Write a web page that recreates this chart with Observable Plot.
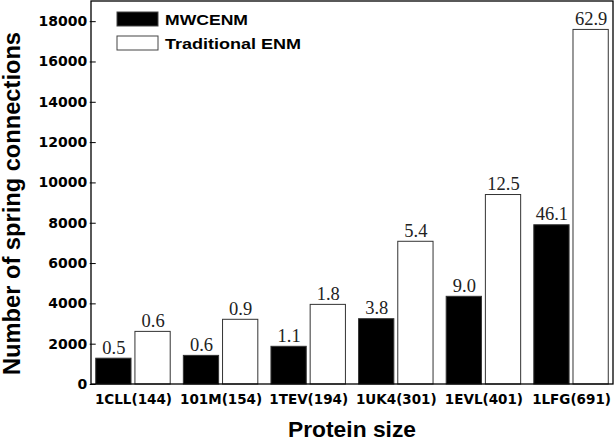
<!DOCTYPE html>
<html>
<head>
<meta charset="utf-8">
<script src="https://cdn.jsdelivr.net/npm/d3@7"></script>
<script src="https://cdn.jsdelivr.net/npm/@observablehq/plot@0.6"></script>
<style>
  html, body { margin: 0; padding: 0; background: #fff; }
  #chart { width: 614px; height: 442px; }
</style>
</head>
<body>
<div id="chart"></div>
<script>
// ---- data ----
const proteins = ["1CLL(144)", "101M(154)", "1TEV(194)", "1UK4(301)", "1EVL(401)", "1LFG(691)"];
const series = ["MWCENM", "Traditional ENM"];
const mwcenmConnections = [1280, 1420, 1870, 3240, 4350, 7900];
const traditionalConnections = [2610, 3210, 3950, 7080, 9400, 17590];
const mwcenmTimes = [0.5, 0.6, 1.1, 3.8, 9.0, 46.1];
const traditionalTimes = [0.6, 0.9, 1.8, 5.4, 12.5, 62.9];
const yTicks = [0, 2000, 4000, 6000, 8000, 10000, 12000, 14000, 16000, 18000];
const yLabel = "Number of spring connections";
const xLabel = "Protein size";

const rows = [];
proteins.forEach((p, i) => {
  rows.push({protein: p, series: series[0], connections: mwcenmConnections[i], time: mwcenmTimes[i]});
  rows.push({protein: p, series: series[1], connections: traditionalConnections[i], time: traditionalTimes[i]});
});

const W = 614, H = 442, mL = 91, mR = 1, mT = 1, mB = 58;

const chart = Plot.plot({
  width: W,
  height: H,
  marginLeft: mL,
  marginRight: mR,
  marginTop: mT,
  marginBottom: mB,
  style: {fontFamily: "DejaVu Sans", fontWeight: "bold", fontSize: "13.5px", color: "#000", background: "#fff"},
  fx: {domain: proteins, paddingInner: 0.15, paddingOuter: 0.054, round: false, label: null, axis: "bottom", tickSize: 0, tickPadding: 10},
  x: {domain: series, paddingInner: 0.1, paddingOuter: 0, round: false, axis: null},
  y: {domain: [0, 19000], ticks: yTicks, tickSize: 6, tickPadding: 3, tickFormat: d => String(d), label: null},
  color: {domain: series, range: ["#000", "#fff"]},
  marks: [
    Plot.barY(rows, {fx: "protein", x: "series", y: "connections", fill: "series", stroke: "#333", strokeWidth: 1}),
    Plot.text(rows, {fx: "protein", x: "series", y: "connections", text: d => d.time.toFixed(1),
      lineAnchor: "bottom", dy: -5, fontFamily: "Liberation Serif", fontWeight: "normal", fontSize: 18.5, fill: "#222"})
  ]
});

const svg = d3.select(chart);
svg.selectAll("g[aria-label='y-axis'] text, g[aria-label='y-axis tick label'] text").style("font-size", "14px");

// frame box
svg.append("rect")
  .attr("x", mL).attr("y", mT)
  .attr("width", W - mL - mR).attr("height", H - mT - mB)
  .attr("fill", "none").attr("stroke", "#000").attr("stroke-width", 1.3);

// axis titles
svg.append("text")
  .attr("transform", `translate(20,${(32 + 375) / 2}) rotate(-90)`)
  .attr("text-anchor", "middle")
  .attr("textLength", 343).attr("lengthAdjust", "spacingAndGlyphs")
  .style("font-family", "Liberation Sans").style("font-weight", "bold").style("font-size", "23px")
  .text(yLabel);
svg.append("text")
  .attr("x", 352).attr("y", 437)
  .attr("text-anchor", "middle")
  .attr("textLength", 128).attr("lengthAdjust", "spacingAndGlyphs")
  .style("font-family", "Liberation Sans").style("font-weight", "bold").style("font-size", "22px")
  .text(xLabel);

// legend
const legendTextLen = [83, 136];
const leg = svg.append("g");
series.forEach((s, i) => {
  leg.append("rect").attr("x", 117).attr("y", 12 + i * 24).attr("width", 41).attr("height", 14)
    .attr("fill", i === 0 ? "#000" : "#fff").attr("stroke", "#444").attr("stroke-width", 1);
  leg.append("text").attr("x", 165).attr("y", 25 + i * 24)
    .attr("text-anchor", "start")
    .attr("textLength", legendTextLen[i]).attr("lengthAdjust", "spacingAndGlyphs")
    .style("font-family", "Liberation Sans").style("font-weight", "bold").style("font-size", "15.5px")
    .text(s);
});

document.getElementById("chart").appendChild(chart);
</script>
</body>
</html>
